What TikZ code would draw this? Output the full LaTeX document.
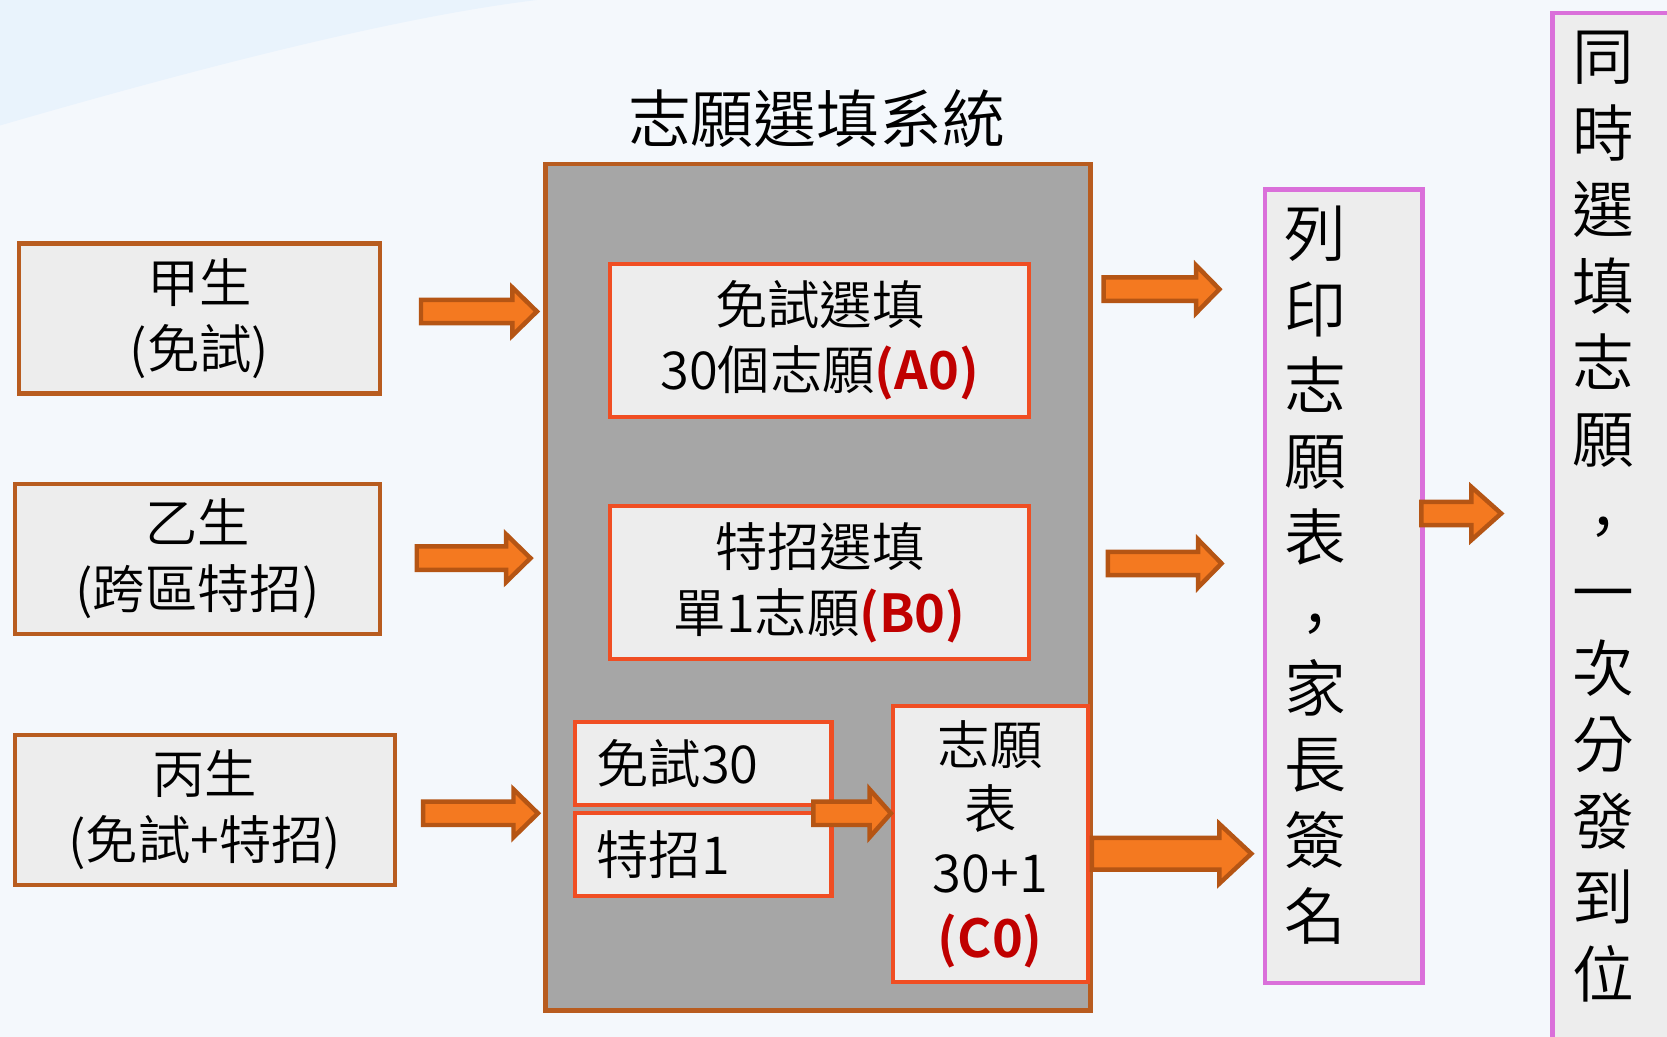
\documentclass[tikz,border=0pt]{standalone}
\usepackage{fontspec}
\setmainfont{Noto Sans CJK TC DemiLight}[BoldFont={Noto Sans CJK TC Bold}]
\usetikzlibrary{calc}
\definecolor{pagebg}{RGB}{244,248,252}
\definecolor{swoosh}{RGB}{233,243,252}
\definecolor{boxbrown}{RGB}{184,92,31}
\definecolor{sysgray}{RGB}{166,166,166}
\definecolor{lightbox}{RGB}{237,237,237}
\definecolor{redline}{RGB}{240,78,35}
\definecolor{pinkline}{RGB}{218,112,218}
\definecolor{arrowfill}{RGB}{244,121,32}
\definecolor{arrowline}{RGB}{181,85,20}
\definecolor{codered}{RGB}{192,0,0}
\tikzset{
  student/.style={draw=boxbrown, fill=lightbox, line width=1.2pt, align=center, inner sep=0pt, anchor=north west, minimum height=1.41cm, font=\fontsize{14}{17.6}\selectfont},
  sysbox/.style={draw=boxbrown, fill=sysgray, line width=1.3pt, anchor=north west},
  choicebox/.style={draw=redline, fill=lightbox, line width=1.1pt, align=center, inner sep=0pt, anchor=north west, font=\fontsize{14}{17.6}\selectfont},
  pinkbox/.style={draw=pinkline, fill=lightbox, line width=1.2pt, anchor=north west},
  vtext/.style={align=center, inner sep=0pt, font=\fontsize{16.5}{20.3}\selectfont},
  systitle/.style={inner sep=0pt, font=\fontsize{16.8}{20}\selectfont},
  barrow/.style={draw=arrowline, fill=arrowfill, line width=1.2pt, line join=miter}
}
% tail x, tip x, y, half shaft, half head, head length
\newcommand{\blockarrow}[6]{%
  \filldraw[barrow] (#1,#3-#4) -- (#2-#6,#3-#4) -- (#2-#6,#3-#5) -- (#2,#3)
    -- (#2-#6,#3+#5) -- (#2-#6,#3+#4) -- (#1,#3+#4) -- cycle;}
\newcommand{\code}[1]{\textcolor{codered}{\bfseries #1}}
\newcommand{\vcomma}{\raisebox{-0.17em}{，}}
\begin{document}
\begin{tikzpicture}[x=0.01cm, y=-0.01cm]
\useasboundingbox (0,0) rectangle (1568,975);
\clip (0,0) rectangle (1568,975);
\fill[pagebg] (0,0) rectangle (1568,975);
\fill[swoosh] (0,0) -- (0,118) .. controls (200,60) and (380,15) .. (505,0) -- cycle;

\node[systitle] (title) at (768,112) {志願選填系統};
\node[sysbox, minimum width=5.12cm, minimum height=7.96cm] (sys) at (511,152) {};

\node[student, minimum width=3.39cm] (jia) at (16,227) {甲生\\(免試)};
\node[student, minimum width=3.43cm] (yi) at (12,453) {乙生\\(跨區特招)\hspace{0.74cm}};
\node[student, minimum width=3.57cm] (bing) at (12,689) {丙生\\(免試+特招)};

\node[choicebox, minimum width=3.94cm, minimum height=1.44cm] (a0) at (572,246) {免試選填\\30個志願\code{(A0)}};
\node[choicebox, minimum width=3.94cm, minimum height=1.44cm] (b0) at (572,474) {特招選填\\單1志願\code{(B0)}};
\node[choicebox, minimum height=0.78cm, text width=2.01cm, inner xsep=0.2cm, align=left] (m30) at (539,677) {免試30};
\node[choicebox, minimum height=0.78cm, text width=2.01cm, inner xsep=0.2cm, align=left] (t1) at (539,763) {特招1};
\node[choicebox, minimum width=1.83cm, minimum height=2.60cm, font=\fontsize{14}{17.2}\selectfont] (c0) at (838,662) {志願\\表\\30+1\\\code{(C0)}};

\node[pinkbox, minimum width=1.48cm, minimum height=7.46cm] (print) at (1188,176) {};
\node[vtext] (printtext) at (1237,541) {列\\印\\志\\願\\表\\\vcomma\\家\\長\\簽\\名};
\node[pinkbox, minimum width=1.40cm, minimum height=10cm] (final) at (1458,10) {};
\node[vtext, font=\fontsize{16.5}{20.45}\selectfont] (finaltext) at (1508,486) {同\\時\\選\\填\\志\\願\\\vcomma\\一\\次\\分\\發\\到\\位};

\blockarrow{396}{505}{293}{11}{22.5}{23}
\blockarrow{392}{499}{525}{11}{22.5}{23}
\blockarrow{398}{506}{765}{11}{22.5}{23}
\blockarrow{765}{838}{765}{11}{22.5}{20}
\blockarrow{1038}{1147}{272}{11}{22.5}{22}
\blockarrow{1042}{1149}{530}{11}{22.5}{22}
\blockarrow{1027}{1177}{803}{15}{28}{30}
\blockarrow{1337}{1412}{483}{11}{25}{28}
\end{tikzpicture}
\end{document}
